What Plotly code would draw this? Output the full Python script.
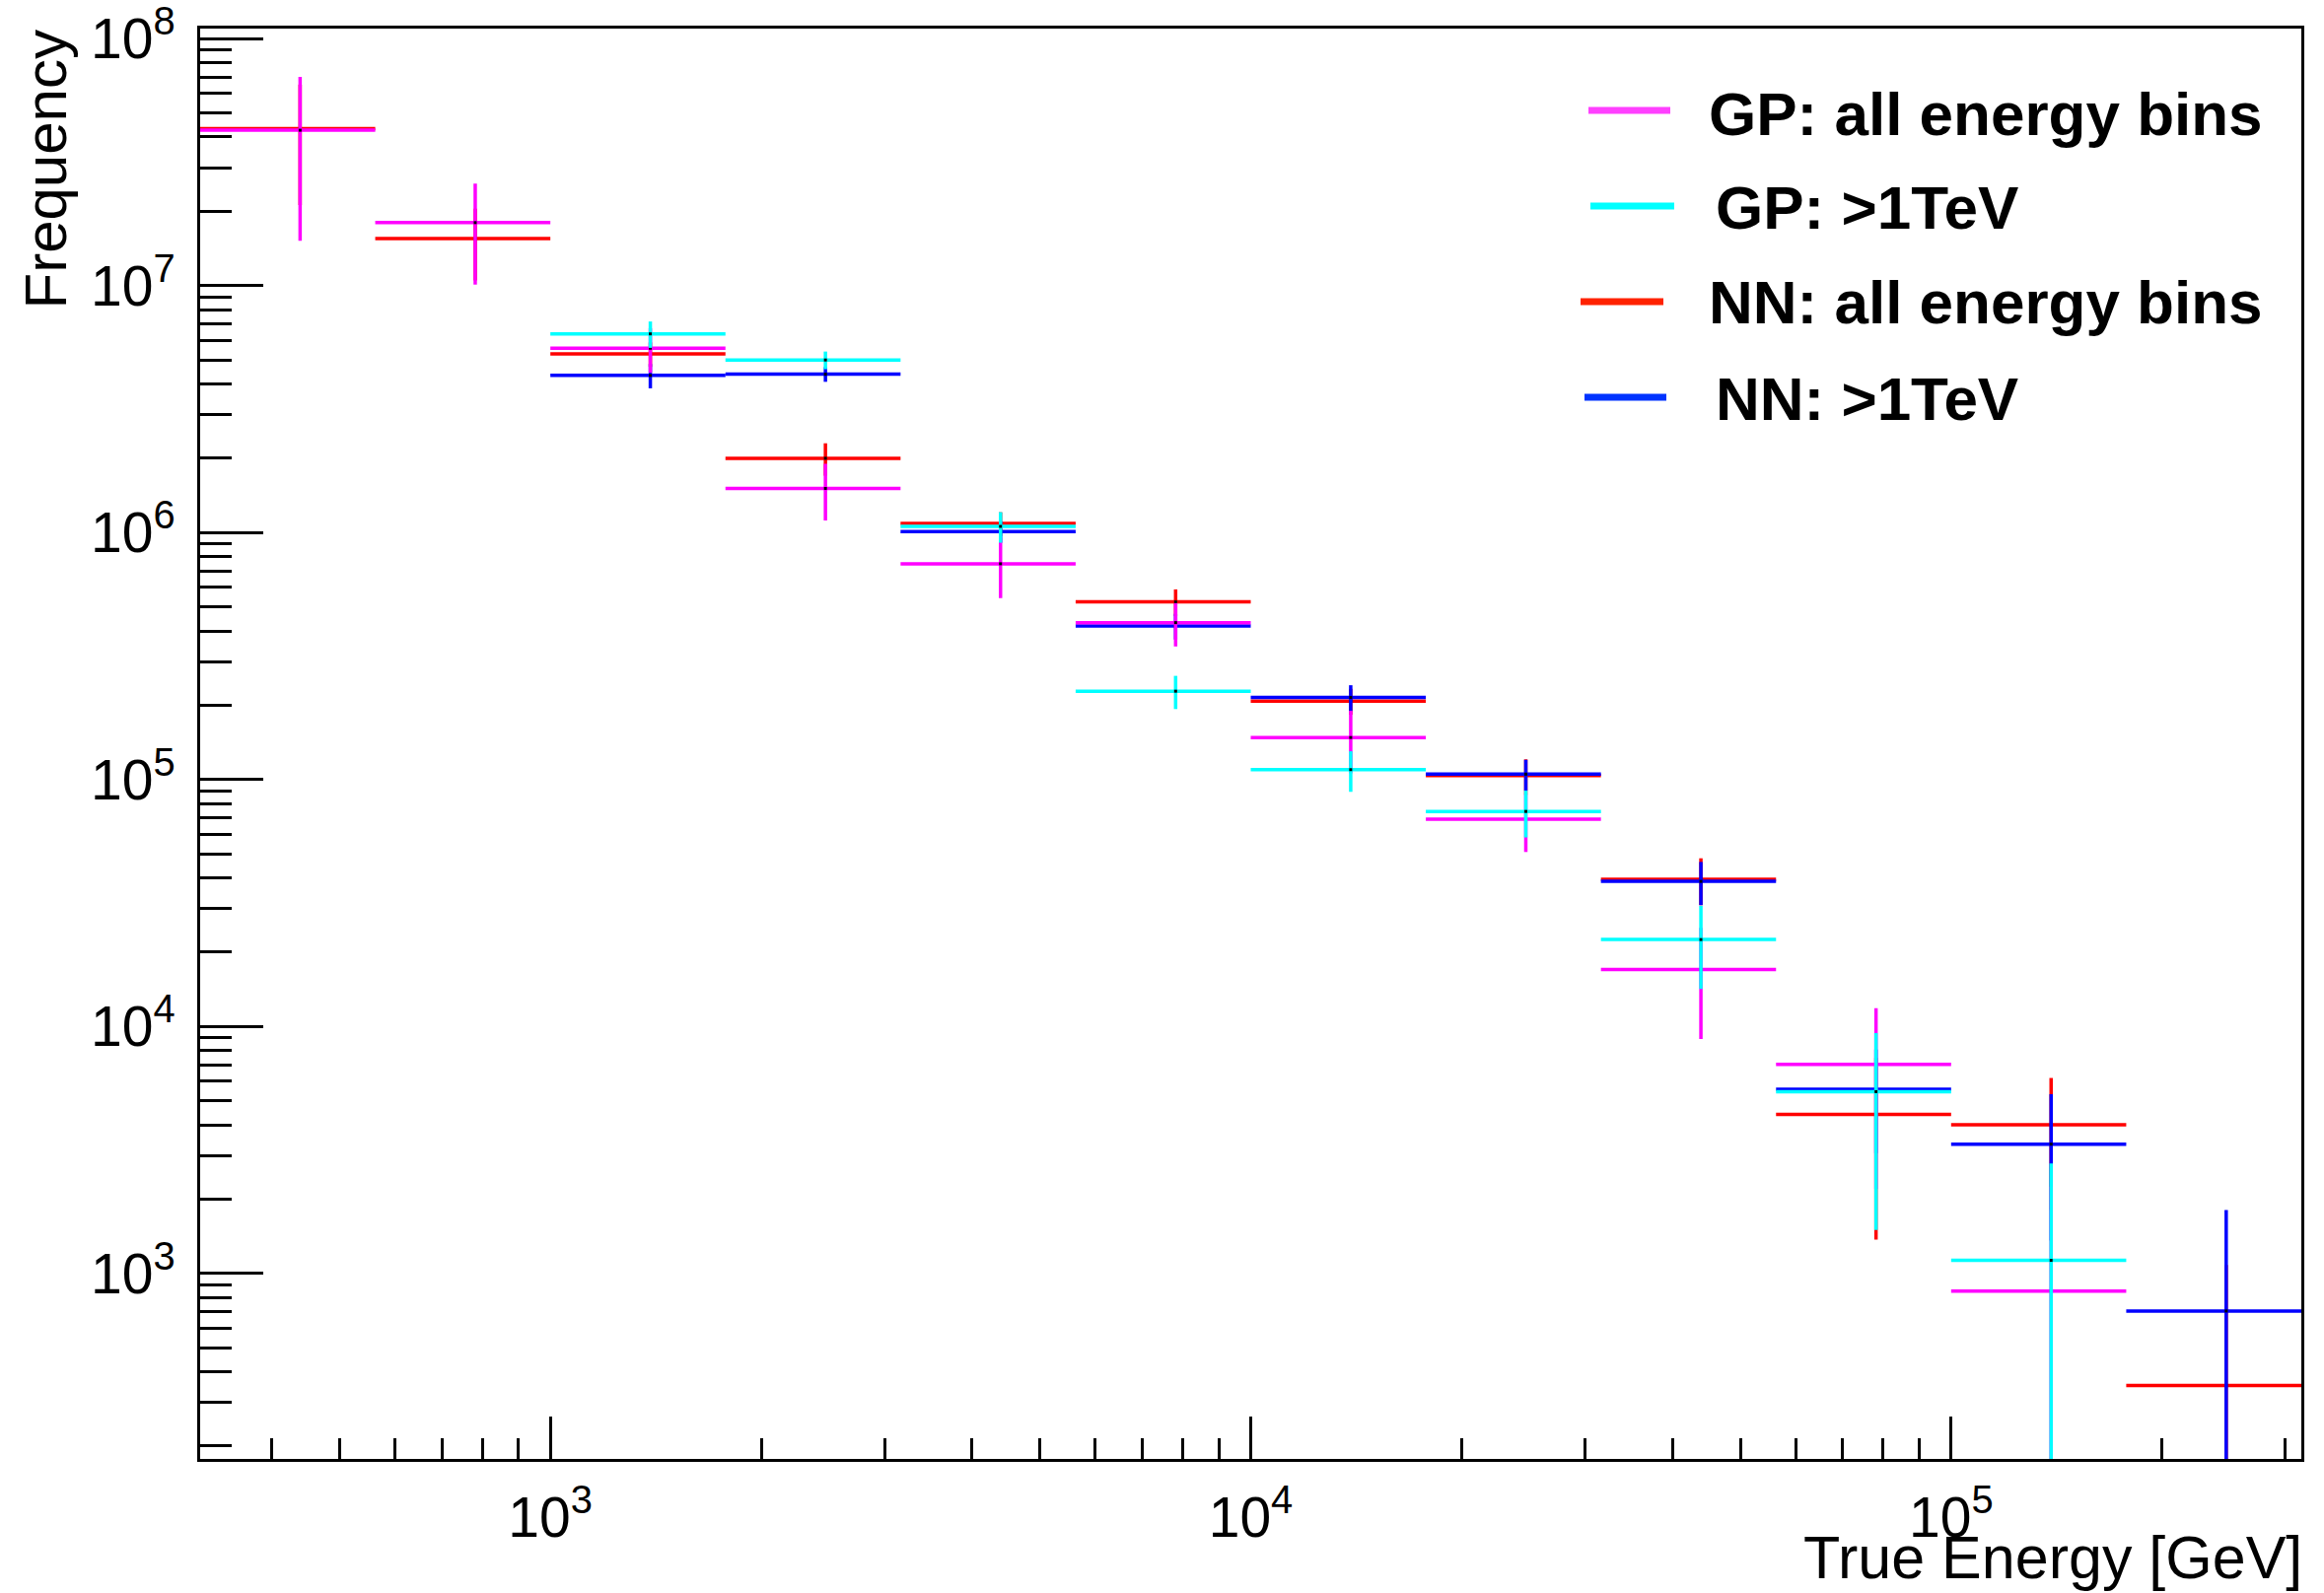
import plotly.graph_objects as go

# ---------------- data ----------------
bin_edges = [316.2, 562.3, 1000.0, 1778.3, 3162.3, 5623.4, 10000.0,
             17782.8, 31622.8, 56234.1, 100000.0, 177827.9, 316227.8]

gp_all = [4.26e7, 1.80e7, 5.58e6, 1.51e6, 7.48e5, 4.32e5, 1.48e5, 6.91e4, 1.70e4, 7.03e3, 849, None]
gp_all_err = [2.74e7, 7.9e6, 1.14e6, 3.9e5, 2.05e5, 8.6e4, 4.2e4, 1.82e4, 8.1e3, 4.83e3, 1.4e3, None]

gp_1tev = [None, None, 6.38e6, 5.00e6, 1.06e6, 2.28e5, 1.097e5, 7.43e4, 2.25e4, 5.45e3, 1.13e3, None]
gp_1tev_err = [None, None, 7.8e5, 4.1e5, 1.5e5, 3.5e4, 2.05e4, 1.6e4, 8.3e3, 3.95e3, 1.66e3, None]

nn_all = [4.32e7, 1.55e7, 5.29e6, 2.00e6, 1.089e6, 5.24e5, 2.08e5, 1.038e5, 3.95e4, 4.41e3, 4.00e3, 352]
nn_all_err = [2.2e7, 5.0e6, 6.0e5, 3.0e5, 1.2e5, 6.5e4, 2.5e4, 1.7e4, 8.5e3, 3.04e3, 2.19e3, 730]

nn_1tev = [None, None, 4.33e6, 4.38e6, 1.01e6, 4.19e5, 2.15e5, 1.052e5, 3.87e4, 5.57e3, 3.34e3, 705]
nn_1tev_err = [None, None, 4.9e5, 3.0e5, 1.0e5, 5.0e4, 2.6e4, 1.5e4, 7.7e3, 2.5e3, 1.98e3, 1.1e3]

series_names = ["GP: all energy bins", "GP: >1TeV", "NN: all energy bins", "NN: >1TeV"]
x_tick_vals = [1e3, 1e4, 1e5]
x_tick_text = ["10<sup>3</sup>", "10<sup>4</sup>", "10<sup>5</sup>"]
y_tick_vals = [1e3, 1e4, 1e5, 1e6, 1e7, 1e8]
y_tick_text = ["10<sup>3</sup>", "10<sup>4</sup>", "10<sup>5</sup>",
               "10<sup>6</sup>", "10<sup>7</sup>", "10<sup>8</sup>"]

# ---------------- derived ----------------
centers = [(a + b) / 2 for a, b in zip(bin_edges[:-1], bin_edges[1:])]
half_w = [(b - a) / 2 for a, b in zip(bin_edges[:-1], bin_edges[1:])]

FONT = "Liberation Sans, Arial, Helvetica, sans-serif"

# plot area in pixels
W, H = 2357, 1616
L, R, T, B = 203, 23, 29, 136
PW, PH = W - L - R, H - T - B


def px(xp):
    return (xp - L) / PW


def py(yp):
    return (H - B - yp) / PH


def hist_trace(vals, errs, color):
    xs, ys, ex, ey = [], [], [], []
    for c, hw, v, e in zip(centers, half_w, vals, errs):
        if v is None:
            continue
        xs.append(c)
        ys.append(v)
        ex.append(hw)
        ey.append(e)
    return go.Scatter(
        x=xs, y=ys, mode="markers",
        marker=dict(symbol="square", size=3, color="black", line=dict(width=0)),
        error_x=dict(type="data", array=ex, symmetric=True, width=0, thickness=3.5, color=color),
        error_y=dict(type="data", array=ey, symmetric=True, width=0, thickness=3.5, color=color),
        showlegend=False, hoverinfo="x+y",
    )


fig = go.Figure()
# drawing order (bottom to top) as in the reference
fig.add_trace(hist_trace(nn_all, nn_all_err, "#ff0000"))
fig.add_trace(hist_trace(nn_1tev, nn_1tev_err, "#0000ff"))
fig.add_trace(hist_trace(gp_all, gp_all_err, "#ff00ff"))
fig.add_trace(hist_trace(gp_1tev, gp_1tev_err, "#00ffff"))

x_minor = [k * 10 ** d for d in range(2, 6) for k in range(2, 10) if 316.2 < k * 10 ** d < 316227.8]
y_minor = [k * 10 ** d for d in range(2, 8) for k in range(2, 10) if 178 < k * 10 ** d < 1.1e8]

axis_common = dict(
    showgrid=False, zeroline=False, showline=True, linewidth=3, linecolor="black",
    mirror=True, ticks="inside", tickwidth=3, tickcolor="black",
    tickfont=dict(family=FONT, size=57, color="black"),
    ticklabeloverflow="allow", automargin=False,
)

fig.update_xaxes(
    type="log", range=[2.5, 5.5], tickmode="array", tickvals=x_tick_vals, ticktext=x_tick_text,
    ticklen=43, ticklabelstandoff=8,
    minor=dict(tickmode="array", tickvals=x_minor, ticks="inside", ticklen=21, tickwidth=3,
               tickcolor="black", showgrid=False),
    **axis_common,
)
fig.update_yaxes(
    type="log", range=[2.249, 8.041], tickmode="array", tickvals=y_tick_vals, ticktext=y_tick_text,
    ticklen=64, ticklabelstandoff=11,
    minor=dict(tickmode="array", tickvals=y_minor, ticks="inside", ticklen=32, tickwidth=3,
               tickcolor="black", showgrid=False),
    **axis_common,
)

annotations = [
    dict(text="Frequency", textangle=-90, xref="paper", yref="paper",
         x=px(46), y=py(29), xanchor="center", yanchor="top", showarrow=False,
         font=dict(family=FONT, size=60, color="black")),
    dict(text="True Energy [GeV]", xref="paper", yref="paper",
         x=px(2337), y=py(1580), xanchor="right", yanchor="middle", showarrow=False,
         font=dict(family=FONT, size=61, color="black")),
]

legend_colors = ["#ff40ff", "#00ffff", "#ff2200", "#0033ff"]
legend_line_x = [(1611, 1694), (1613, 1698), (1603, 1687), (1607, 1690)]
legend_line_y = [112, 209, 306, 403]
legend_text_x = [1731, 1738, 1731, 1738]
legend_text_y = [115, 211, 306, 405]

shapes = []
for name, col, (x0, x1), ly, tx, ty in zip(series_names, legend_colors, legend_line_x,
                                           legend_line_y, legend_text_x, legend_text_y):
    shapes.append(dict(type="line", xref="paper", yref="paper", x0=px(x0), x1=px(x1),
                       y0=py(ly), y1=py(ly), line=dict(color=col, width=7)))
    annotations.append(dict(text="<b>" + name + "</b>", xref="paper", yref="paper",
                            x=px(tx), y=py(ty), xanchor="left", yanchor="middle",
                            showarrow=False, font=dict(family=FONT, size=62, color="black")))

fig.update_layout(
    width=W, height=H, autosize=False,
    margin=dict(l=L, r=R, t=T, b=B, pad=0, autoexpand=False),
    paper_bgcolor="white", plot_bgcolor="white",
    annotations=annotations, shapes=shapes, showlegend=False,
)

fig.write_html("out.html")
